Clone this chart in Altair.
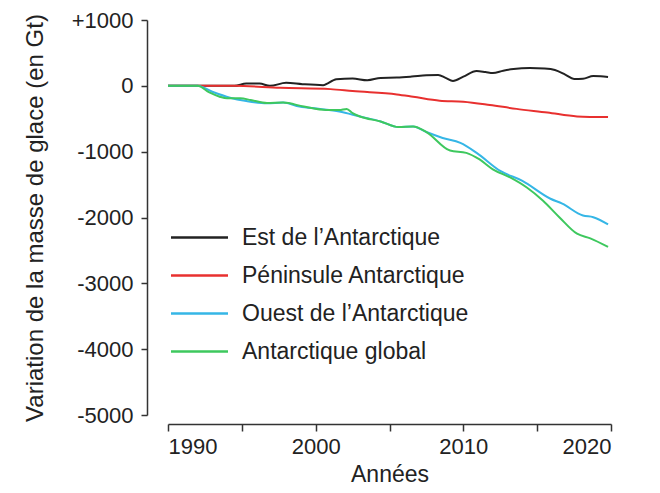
import altair as alt
import pandas as pd

series_names = ["Est de l\u2019Antarctique", "P\u00e9ninsule Antarctique",
                "Ouest de l\u2019Antarctique", "Antarctique global"]
series_colors = ["#222222", "#e8302f", "#35b6e6", "#3ec85e"]

east_years = [1990, 1994.5, 1995.3, 1996.2, 1996.9, 1998.0, 1999.1, 2000.5, 2001.4, 2002.5,
              2003.5, 2004.4, 2005.5, 2006.5, 2007.5, 2008.3, 2008.8, 2009.3, 2010.0,
              2010.9, 2011.5, 2012.0, 2012.7, 2013.4, 2014.5, 2015.5, 2016.2, 2016.9,
              2017.5, 2018.1, 2018.8, 2019.3, 2019.8]
east_vals = [0, 0, 35, 35, 0, 45, 25, 10, 100, 110,
             85, 120, 125, 140, 160, 165, 120, 75, 140,
             225, 210, 195, 230, 255, 270, 262, 240, 170,
             105, 108, 150, 145, 135]

pen_years = [1990, 1994.5, 1997.6, 2001.0, 2002.5, 2005.5, 2006.6, 2008.4, 2010.0,
             2011.8, 2013.6, 2015.7, 2017.7, 2019.8]
pen_vals = [0, 0, -30, -50, -80, -130, -165, -225, -240,
            -290, -350, -405, -465, -475]

west_years = [1990, 1992.0, 1993.0, 1994.2, 1995.3, 1996.7, 1997.8, 1998.9, 2000.3,
              2001.6, 2003.0, 2004.4, 2005.6, 2006.6, 2007.5, 2008.6, 2009.8, 2010.9,
              2012.5, 2014.0, 2015.9, 2016.7, 2018.1, 2018.8, 2019.8]
west_vals = [0, 0, -90, -180, -230, -265, -255, -315, -350,
             -390, -466, -541, -627, -617, -702, -792, -867, -1018,
             -1293, -1444, -1715, -1790, -1970, -1995, -2105]

glob_years = [1990, 1992.0, 1992.8, 1993.5, 1994.0, 1994.9, 1995.6, 1996.7, 1997.8,
              1999.2, 2000.7, 2001.6, 2002.1, 2002.5, 2003.0, 2004.4, 2005.6, 2006.6,
              2007.5, 2009.1, 2010.2, 2011.1, 2012.0, 2013.2, 2014.3, 2015.4, 2016.5,
              2017.7, 2018.6, 2019.8]
glob_vals = [0, 0, -100, -165, -190, -190, -215, -262, -255,
             -315, -366, -366, -350, -416, -466, -541, -627, -617,
             -702, -983, -1018, -1118, -1268, -1394, -1544, -1745, -1995,
             -2246, -2316, -2447]

x_ticks = [1990, 1995, 2000, 2005, 2010, 2015, 2020]
y_ticks = [-5000, -4000, -3000, -2000, -1000, 0, 1000]

rows = []
for name, ys, vs in zip(series_names,
                        [east_years, pen_years, west_years, glob_years],
                        [east_vals, pen_vals, west_vals, glob_vals]):
    for y, v in zip(ys, vs):
        rows.append({"serie": name, "annee": y, "masse": v})
df = pd.DataFrame(rows)

FONT = "Liberation Sans"
TXT = "#222222"

chart = alt.Chart(df).mark_line(strokeWidth=2, interpolate="monotone").encode(
    x=alt.X("annee:Q",
            scale=alt.Scale(domain=[1990, 2020], nice=False, zero=False),
            axis=alt.Axis(title="Ann\u00e9es", values=x_ticks,
                          labelExpr="datum.value % 10 == 0 ? '' + datum.value : ''",
                          grid=False, offset=9, tickSize=7, labelPadding=5,
                          titlePadding=6)),
    y=alt.Y("masse:Q",
            scale=alt.Scale(domain=[-5000, 1000], nice=False),
            axis=alt.Axis(title="Variation de la masse de glace (en Gt)", values=y_ticks,
                          labelExpr="datum.value > 0 ? '+' + datum.value : '' + datum.value",
                          grid=False, offset=21, tickSize=6, labelPadding=8,
                          titlePadding=24, titleFontSize=24)),
    color=alt.Color("serie:N",
                    scale=alt.Scale(domain=series_names, range=series_colors),
                    sort=series_names,
                    legend=alt.Legend(title=None, orient="none", legendX=20, legendY=206,
                                      symbolType="M-3,0H3", symbolSize=361,
                                      symbolStrokeWidth=2.5, labelOffset=31,
                                      rowPadding=14, padding=0,
                                      labelFont=FONT, labelFontSize=23,
                                      labelColor=TXT, labelLimit=400)),
).properties(
    width=443, height=395, background="white",
    autosize=alt.AutoSizeParams(type="none"),
    padding={"left": 160, "top": 12, "right": 41, "bottom": 76},
).configure_axis(
    labelFont=FONT, labelFontSize=22, labelColor=TXT,
    titleFont=FONT, titleFontSize=23, titleColor=TXT, titleFontWeight="normal",
    domainColor="#333333", tickColor="#333333", domainWidth=1.5, tickWidth=1.5
).configure_view(stroke=None)

chart.save("out.html", embed_options={"renderer": "svg", "actions": False})
